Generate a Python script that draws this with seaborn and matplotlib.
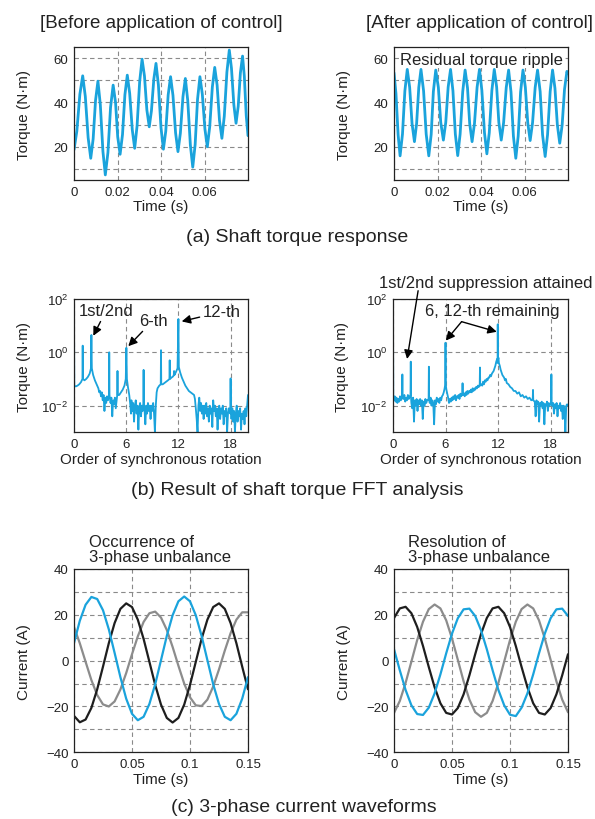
import matplotlib
matplotlib.use("Agg")
import numpy as np
import matplotlib.pyplot as plt
from matplotlib.ticker import FixedLocator, NullLocator
import seaborn as sns

sns.set_theme(style="white")
plt.rcParams["font.family"] = ["Liberation Sans", "DejaVu Sans"]
plt.rcParams["mathtext.fontset"] = "custom"
plt.rcParams["mathtext.rm"] = "Liberation Sans"
plt.rcParams["mathtext.it"] = "Liberation Sans:italic"
plt.rcParams["mathtext.bf"] = "Liberation Sans:bold"

BLUE = "#1aa3dc"
BLACK = "#1e1e1e"
GRAY = "#8c8c8c"

# ---------------- (a) shaft torque response ----------------
before_t = [0, 0.0013, 0.0027, 0.004, 0.0052, 0.0065, 0.0077, 0.0088, 0.0099, 0.011, 0.0121,
            0.0133, 0.0144, 0.0156, 0.0168, 0.018, 0.0191, 0.0201, 0.0212, 0.0223, 0.0234,
            0.0245, 0.0256, 0.0268, 0.0279, 0.029, 0.0302, 0.0313, 0.0324, 0.0335, 0.0346,
            0.0356, 0.0367, 0.0377, 0.0388, 0.04, 0.0411, 0.0422, 0.0433, 0.0444, 0.0455,
            0.0467, 0.0478, 0.0489, 0.0501, 0.0512, 0.0523, 0.0535, 0.0546, 0.0557, 0.0568,
            0.0579, 0.059, 0.0602, 0.0613, 0.0624, 0.0636, 0.0647, 0.0658, 0.0669, 0.068,
            0.0691, 0.0703, 0.0714, 0.0724, 0.0735, 0.0745, 0.0755, 0.0765, 0.0775, 0.0783,
            0.0792, 0.08]
before_v = [18.6, 27.0, 43.7, 52.0, 42.7, 24.1, 14.8, 23.5, 40.9, 49.6, 39.0,
            17.9, 7.3, 17.4, 37.7, 47.8, 40.0, 24.4, 16.6, 25.5, 43.4,
            52.3, 44.1, 27.6, 19.3, 29.4, 49.5, 59.5, 51.9, 36.6, 29.0,
            36.2, 50.5, 57.6, 47.9, 28.6, 18.9, 27.1, 43.4, 51.6, 43.2,
            26.3, 17.8, 26.1, 42.6, 50.8, 40.8, 20.8, 10.8, 21.0, 41.4,
            51.6, 43.7, 27.9, 20.0, 29.0, 46.9, 55.8, 47.8, 31.8, 23.8,
            33.8, 53.7, 63.6, 55.4, 38.9, 30.6, 38.2, 53.3, 60.9, 51.9,
            34.0, 25.0]
after_t = [0, 0.0009, 0.0019, 0.0028, 0.0039, 0.005, 0.0061, 0.0072, 0.0083, 0.0094, 0.0104,
           0.0114, 0.0124, 0.0136, 0.0148, 0.016, 0.0171, 0.0181, 0.0192, 0.0204, 0.0215,
           0.0227, 0.0238, 0.0249, 0.026, 0.0271, 0.0282, 0.0293, 0.0304, 0.0316, 0.0327,
           0.0338, 0.0348, 0.0359, 0.037, 0.0382, 0.0393, 0.0404, 0.0416, 0.0427, 0.0438,
           0.045, 0.0461, 0.0472, 0.0482, 0.0493, 0.0504, 0.0516, 0.0527, 0.0538, 0.0549,
           0.056, 0.0571, 0.0582, 0.0593, 0.0604, 0.0615, 0.0626, 0.0637, 0.0649, 0.066,
           0.0672, 0.0683, 0.0695, 0.0706, 0.0718, 0.0729, 0.074, 0.0751, 0.0762, 0.0773,
           0.0784, 0.0795, 0.08]
after_v = [53.4, 44.0, 25.3, 15.9, 25.7, 45.2, 54.9, 46.8, 30.4, 22.3, 30.5,
           46.8, 54.9, 45.2, 25.7, 15.9, 25.6, 44.9, 54.6, 46.7, 30.9,
           23.0, 31.0, 46.9, 54.9, 45.2, 25.7, 16.0, 25.7, 44.9, 54.6,
           46.5, 30.4, 22.3, 30.5, 46.8, 54.9, 45.4, 26.3, 16.8, 26.3,
           45.4, 54.9, 46.9, 31.0, 23.0, 30.9, 46.7, 54.6, 44.7, 24.8,
           14.8, 24.8, 44.7, 54.6, 46.7, 30.8, 22.8, 30.8, 46.7, 54.6,
           44.9, 25.4, 15.6, 25.4, 44.9, 54.6, 46.4, 29.9, 21.6, 29.7,
           45.9, 54.0, 53.0]

# ---------------- (b) FFT spectra: order and log10(torque) ----------------
fft_before = [
    (0.00, 1.60), (0.03, -1.25), (0.2, -1.28), (0.4, -1.25), (0.6, -1.2), (0.8, -1.12), (0.97, -1.0),
    (1.00, 0.25), (1.03, -1.0), (1.2, -1.05), (1.4, -1.0), (1.6, -0.92), (1.8, -0.8), (1.95, -0.6),
    (2.00, 0.65), (2.05, -0.6), (2.2, -0.85), (2.4, -1.05), (2.6, -1.2), (2.8, -1.35), (2.9, -1.5),
    (3.0, -1.45), (3.1, -1.65), (3.2, -1.5), (3.3, -1.8), (3.4, -1.6), (3.5, -2.2), (3.6, -1.7),
    (3.7, -1.9), (3.8, -1.65), (3.9, -1.8), (4.03, -1.6), (4.05, 0.0), (4.08, -1.6), (4.2, -1.9),
    (4.3, -1.7), (4.4, -2.4), (4.5, -1.8), (4.6, -1.95), (4.7, -1.7), (4.8, -2.1), (4.97, -1.6),
    (5.00, -0.7), (5.03, -1.6), (5.2, -1.6), (5.4, -1.5), (5.6, -1.4), (5.8, -1.25), (5.95, -1.0),
    (6.02, 0.17), (6.08, -1.0), (6.2, -1.3), (6.35, -1.6), (6.45, -1.9), (6.55, -2.3), (6.6, -1.8),
    (6.7, -2.2), (6.8, -1.9), (6.9, -2.6), (7.0, -2.0), (7.1, -1.8), (7.2, -2.3), (7.3, -2.0),
    (7.4, -2.9), (7.5, -2.1), (7.6, -1.9), (7.7, -2.4), (7.8, -2.0), (7.9, -2.2), (7.97, -1.9),
    (8.0, -0.66), (8.03, -1.9), (8.1, -2.1), (8.2, -2.7), (8.3, -2.0), (8.4, -2.3), (8.5, -1.9),
    (8.6, -2.2), (8.7, -2.0), (8.8, -2.5), (8.9, -2.0), (9.0, -2.2), (9.1, -1.9), (9.2, -2.3),
    (9.3, -3.0), (9.4, -2.0), (9.5, -1.5), (9.6, -1.35), (9.7, -1.3), (9.8, -1.25), (9.97, -1.2),
    (10.0, 0.08), (10.03, -1.2), (10.2, -1.2), (10.4, -1.15), (10.6, -1.1), (10.8, -1.05),
    (10.97, -1.0), (11.0, -0.3), (11.03, -1.0), (11.2, -0.95), (11.4, -0.9), (11.47, -0.85),
    (11.5, -0.7), (11.55, -0.85), (11.7, -0.75), (11.9, -0.6), (12.0, 1.25), (12.05, -0.55),
    (12.2, -0.75), (12.4, -0.95), (12.6, -1.1), (12.8, -1.25), (13.0, -1.35), (13.2, -1.45),
    (13.4, -1.5), (13.6, -1.55), (13.8, -1.6), (13.9, -1.75), (14.0, -2.1), (14.1, -2.5),
    (14.2, -3.0), (14.3, -2.0), (14.4, -1.7), (14.5, -2.2), (14.6, -1.9), (14.7, -2.3),
    (14.8, -2.0), (14.9, -2.5), (15.0, -2.0), (15.1, -2.3), (15.2, -1.9), (15.3, -2.4),
    (15.4, -2.1), (15.5, -2.6), (15.6, -2.0), (15.7, -2.3), (15.8, -2.1), (15.9, -2.8),
    (16.0, -1.8), (16.1, -2.2), (16.2, -2.0), (16.3, -2.4), (16.4, -2.1), (16.5, -2.9),
    (16.6, -2.2), (16.7, -2.0), (16.8, -2.5), (16.9, -2.1), (17.0, -2.3), (17.1, -2.0),
    (17.2, -2.7), (17.3, -2.2), (17.4, -2.4), (17.5, -2.1), (17.6, -3.0), (17.7, -2.3),
    (17.8, -2.1), (17.97, -2.3), (18.0, -0.98), (18.03, -2.2), (18.1, -2.5), (18.2, -2.1),
    (18.3, -2.6), (18.4, -2.2), (18.5, -3.0), (18.6, -2.3), (18.7, -2.0), (18.8, -2.6),
    (18.9, -2.2), (19.0, -2.4), (19.1, -2.1), (19.2, -2.9), (19.3, -2.3), (19.4, -2.5),
    (19.5, -2.2), (19.6, -2.7), (19.7, -2.1), (19.8, -2.4), (19.9, -2.0), (20.0, -1.6)]
fft_after = [
    (0.0, 1.6), (0.03, -1.7), (0.1, -1.8), (0.2, -1.65), (0.3, -1.85), (0.4, -1.7), (0.5, -1.9),
    (0.6, -1.75), (0.7, -1.85), (0.8, -1.65), (0.9, -1.8), (1.04, -1.7), (1.07, -0.83), (1.1, -1.7),
    (1.2, -1.75), (1.3, -1.6), (1.4, -1.85), (1.5, -1.7), (1.6, -1.8), (1.7, -1.6), (1.8, -1.75),
    (1.9, -1.65), (2.0, -1.6), (2.03, -0.35), (2.06, -1.7), (2.1, -1.9), (2.2, -2.1), (2.3, -1.7),
    (2.4, -2.6), (2.5, -1.8), (2.6, -2.0), (2.7, -1.75), (2.8, -2.2), (2.9, -1.8), (3.0, -1.95),
    (3.1, -1.75), (3.2, -2.0), (3.3, -1.8), (3.4, -2.5), (3.5, -1.85), (3.6, -2.0), (3.7, -1.75),
    (3.8, -1.9), (3.9, -1.8), (4.07, -1.75), (4.1, -0.54), (4.13, -1.8), (4.2, -1.9), (4.3, -1.7),
    (4.4, -2.0), (4.5, -1.8), (4.6, -1.9), (4.7, -2.7), (4.8, -1.8), (4.9, -1.95), (5.0, -1.7),
    (5.1, -1.85), (5.2, -1.75), (5.3, -1.9), (5.4, -1.7), (5.5, -1.8), (5.6, -1.65), (5.7, -1.6),
    (5.8, -1.5), (5.9, -1.35), (5.97, -1.2), (6.0, 0.36), (6.03, -1.2), (6.1, -1.4), (6.2, -1.55),
    (6.3, -1.7), (6.4, -1.9), (6.5, -1.75), (6.6, -1.85), (6.7, -1.7), (6.8, -1.8), (6.9, -1.65),
    (7.0, -1.75), (7.1, -1.6), (7.2, -1.8), (7.3, -1.65), (7.4, -1.7), (7.5, -1.6), (7.6, -1.75),
    (7.7, -1.55), (7.8, -1.65), (7.92, -1.55), (7.95, -1.16), (7.98, -1.6), (8.1, -1.55),
    (8.2, -1.65), (8.3, -1.5), (8.4, -1.6), (8.5, -1.45), (8.6, -1.55), (8.7, -1.45), (8.8, -1.5),
    (8.9, -1.4), (9.0, -1.5), (9.1, -1.35), (9.2, -1.45), (9.3, -1.35), (9.4, -1.4), (9.5, -1.3),
    (9.6, -1.35), (9.7, -1.25), (9.8, -1.3), (9.91, -1.2), (9.94, -0.57), (9.97, -1.25),
    (10.1, -1.2), (10.2, -1.25), (10.3, -1.1), (10.4, -1.2), (10.5, -1.05), (10.6, -1.1),
    (10.7, -1.0), (10.8, -1.05), (10.9, -0.95), (11.0, -0.95), (11.1, -0.85), (11.2, -0.9),
    (11.3, -0.8), (11.4, -0.75), (11.5, -0.7), (11.6, -0.6), (11.7, -0.5), (11.8, -0.35),
    (11.9, -0.25), (11.95, -0.4), (11.97, 1.05), (12.0, -0.3), (12.05, -0.2), (12.1, -0.4),
    (12.2, -0.5), (12.3, -0.65), (12.4, -0.75), (12.5, -0.85), (12.6, -0.9), (12.7, -0.95),
    (12.8, -1.05), (12.9, -1.0), (13.0, -1.15), (13.2, -1.2), (13.4, -1.3), (13.6, -1.35),
    (13.8, -1.45), (14.0, -1.45), (14.2, -1.55), (14.4, -1.5), (14.6, -1.65), (14.8, -1.6),
    (15.0, -1.7), (15.2, -1.65), (15.4, -1.75), (15.6, -1.7), (15.8, -1.8), (15.97, -1.75),
    (16.0, -1.41), (16.03, -1.8), (16.2, -1.85), (16.3, -2.4), (16.4, -1.8), (16.5, -1.95),
    (16.6, -1.85), (16.7, -2.6), (16.8, -1.9), (16.9, -2.0), (17.0, -1.85), (17.1, -2.1),
    (17.2, -1.9), (17.3, -2.7), (17.4, -1.95), (17.5, -2.0), (17.6, -1.85), (17.7, -2.2),
    (17.8, -1.9), (17.9, -2.0), (18.07, -1.9), (18.1, -0.83), (18.13, -1.95), (18.2, -2.0),
    (18.3, -1.9), (18.4, -2.3), (18.5, -1.95), (18.6, -2.1), (18.7, -1.9), (18.8, -2.4),
    (18.9, -2.0), (19.0, -2.1), (19.1, -1.9), (19.2, -2.2), (19.3, -2.0), (19.4, -2.5),
    (19.5, -2.0), (19.6, -2.1), (19.7, -3.0), (19.8, -2.0), (19.9, -1.95), (20.0, -2.0)]

# ---------------- (c) 3-phase currents, sampled every 5 ms ----------------
cur_t = [0.0, 0.005, 0.01, 0.015, 0.02, 0.025, 0.03, 0.035, 0.04, 0.045, 0.05, 0.055, 0.06,
         0.065, 0.07, 0.075, 0.08, 0.085, 0.09, 0.095, 0.1, 0.105, 0.11, 0.115, 0.12, 0.125,
         0.13, 0.135, 0.14, 0.145, 0.15]
left_blue = [7.7, 17.4, 24.4, 27.8, 26.9, 22.0, 13.7, 3.4, -7.2, -16.6, -23.2, -26.0, -24.5,
             -18.9, -10.3, 0.2, 10.8, 19.8, 25.9, 28.0, 25.9, 19.8, 10.8, 0.2, -10.3, -18.9,
             -24.5, -26.0, -23.2, -16.6, -7.2]
left_black = [-24.1, -26.9, -25.7, -20.6, -12.5, -2.6, 7.6, 16.4, 22.6, 25.0, 23.4, 17.9, 9.5,
              -0.5, -10.6, -19.2, -25.0, -27.0, -25.0, -19.2, -10.6, -0.5, 9.5, 17.9, 23.4,
              25.0, 22.6, 16.4, 7.6, -2.6, -12.5]
left_gray = [14.7, 7.6, -0.5, -8.5, -15.0, -19.1, -20.0, -17.8, -12.6, -5.4, 2.8, 10.6, 16.9,
             20.7, 21.4, 18.8, 13.4, 6.0, -2.2, -10.0, -16.0, -19.5, -19.8, -17.0, -11.3, -3.8,
             4.4, 12.0, 17.9, 21.1, 21.1]
right_black = [18.6, 22.8, 23.5, 20.7, 14.7, 6.4, -2.8, -11.6, -18.6, -22.8, -23.5, -20.7,
               -14.7, -6.4, 2.8, 11.6, 18.6, 22.8, 23.5, 20.7, 14.7, 6.4, -2.8, -11.6, -18.6,
               -22.8, -23.5, -20.7, -14.7, -6.4, 2.8]
right_gray = [-22.8, -17.6, -9.7, -0.4, 9.0, 17.0, 22.5, 24.5, 22.8, 17.6, 9.7, 0.4, -9.0,
              -17.0, -22.5, -24.5, -22.8, -17.6, -9.7, -0.4, 9.0, 17.0, 22.5, 24.5, 22.8,
              17.6, 9.7, 0.4, -9.0, -17.0, -22.5]
right_blue = [5.0, -4.2, -12.8, -19.5, -23.3, -23.7, -20.5, -14.3, -6.0, 3.2, 11.8, 18.5, 22.4,
              22.7, 19.5, 13.3, 5.0, -4.2, -12.8, -19.5, -23.6, -24.2, -20.5, -14.3, -6.0, 3.2,
              11.8, 18.5, 22.4, 22.7, 19.5]

# ---------------- figure ----------------
W, H = 595, 820
fig = plt.figure(figsize=(W / 100, H / 100), dpi=100)


def add_ax(x0, y0, x1, y1):
    return fig.add_axes([x0 / W, 1 - y1 / H, (x1 - x0) / W, (y1 - y0) / H])


def style(ax, ylab, xlab, xlab_y):
    for s in ax.spines.values():
        s.set_visible(True)
        s.set_color("#222222")
        s.set_linewidth(0.9)
    ax.tick_params(which="both", length=0, labelsize=9.5, colors="#222222", pad=4)
    ax.grid(True, which="both", linestyle=(0, (4, 3)), color="#8a8a8a", linewidth=0.8)
    ax.set_axisbelow(True)
    ax.set_ylabel(ylab, fontsize=11, color="#222222")
    ax.set_xlabel(xlab, fontsize=11, color="#222222")
    ax.yaxis.set_label_coords(-0.29, 0.5)
    ax.yaxis.label.set_va("center")
    ax.xaxis.set_label_coords(0.5, xlab_y)
    ax.xaxis.label.set_va("center")


def line(ax, x, y, color, lw):
    sns.lineplot(x=x, y=y, ax=ax, color=color, linewidth=lw, estimator=None, sort=False,
                 legend=False, solid_joinstyle="round", solid_capstyle="round")


# (a)
for (x0, x1, tt, vv) in [(74, 248, before_t, before_v), (394, 568, after_t, after_v)]:
    ax = add_ax(x0, 48, x1, 181)
    line(ax, tt, vv, BLUE, 2.0)
    ax.set_xlim(0, 0.08)
    ax.set_ylim(5, 65)
    ax.xaxis.set_major_locator(FixedLocator([0, 0.02, 0.04, 0.06]))
    ax.set_xticklabels(["0", "0.02", "0.04", "0.06"])
    ax.yaxis.set_major_locator(FixedLocator([20, 40, 60]))
    ax.set_yticklabels(["20", "40", "60"])
    ax.yaxis.set_minor_locator(FixedLocator([10, 30, 50]))
    style(ax, "Torque (N·m)", "Time (s)", -0.193)
    if x0 > 300:
        ax.text(0.505, 0.905, "Residual torque ripple", transform=ax.transAxes, ha="center",
                va="center", fontsize=12, color="#222222",
                bbox=dict(facecolor="white", edgecolor="none", pad=0.5))

fig.text(161 / W, 1 - 24 / H, "[Before application of control]", ha="center", va="center",
         fontsize=13.5, color="#222222")
fig.text(480 / W, 1 - 24 / H, "[After application of control]", ha="center", va="center",
         fontsize=13.5, color="#222222")
fig.text(297 / W, 1 - 238 / H, "(a) Shaft torque response", ha="center", va="center",
         fontsize=14, color="#222222")

# (b)
axes_b = []
for (x0, x1, spec) in [(74, 248, fft_before), (393, 568, fft_after)]:
    ax = add_ax(x0, 300, x1, 433.3)
    order = [p[0] for p in spec]
    torque = [10 ** p[1] for p in spec]
    line(ax, order, torque, BLUE, 1.3)
    ax.set_yscale("log")
    ax.set_xlim(0, 20)
    ax.set_ylim(1e-3, 1e2)
    ax.xaxis.set_major_locator(FixedLocator([0, 6, 12, 18]))
    ax.set_xticklabels(["0", "6", "12", "18"])
    ax.yaxis.set_major_locator(FixedLocator([1e-2, 1e0, 1e2]))
    ax.set_yticklabels([r"$10^{-2}$", r"$10^{0}$", r"$10^{2}$"])
    ax.yaxis.set_minor_locator(NullLocator())
    style(ax, "Torque (N·m)", "Order of synchronous rotation", -0.20)
    axes_b.append(ax)

arrow = dict(arrowstyle="-|>", color="black", lw=1.0, mutation_scale=13, shrinkA=0, shrinkB=0)
axl, axr = axes_b
axl.annotate("1st/2nd", xy=(2.22, 10 ** 0.62), xytext=(3.68, 10 ** 1.56), fontsize=12,
             ha="center", va="center", color="#222222", arrowprops=arrow, annotation_clip=False)
axl.annotate("6-th", xy=(6.24, 10 ** 0.23), xytext=(9.08, 10 ** 1.19), fontsize=12,
             ha="center", va="center", color="#222222", arrowprops=arrow, annotation_clip=False)
axl.annotate("12-th", xy=(12.38, 10 ** 1.16), xytext=(17.0, 10 ** 1.52), fontsize=12,
             ha="center", va="center", color="#222222", arrowprops=arrow, annotation_clip=False)

axr.text(10.63, 10 ** 2.63, "1st/2nd suppression attained", fontsize=12, ha="center",
         va="center", color="#222222", clip_on=False)
axr.annotate("", xy=(1.61, 10 ** -0.25), xytext=(2.87, 10 ** 2.31), arrowprops=arrow,
             annotation_clip=False)
axr.text(11.32, 10 ** 1.56, "6, 12-th remaining", fontsize=12, ha="center", va="center",
         color="#222222", clip_on=False)
axr.annotate("", xy=(6.04, 10 ** 0.44), xytext=(7.84, 10 ** 1.15), arrowprops=arrow,
             annotation_clip=False)
axr.annotate("", xy=(11.86, 10 ** 0.77), xytext=(7.84, 10 ** 1.15), arrowprops=arrow,
             annotation_clip=False)

fig.text(297 / W, 1 - 491 / H, "(b) Result of shaft torque FFT analysis", ha="center",
         va="center", fontsize=14, color="#222222")

# (c)
for (x0, x1, bl, bk, gr, title, tx) in [
        (74, 248, left_blue, left_black, left_gray, "Occurrence of\n3-phase unbalance", 89),
        (394, 568, right_blue, right_black, right_gray, "Resolution of\n3-phase unbalance", 408)]:
    ax = add_ax(x0, 570, x1, 753.3)
    line(ax, cur_t, gr, GRAY, 1.6)
    line(ax, cur_t, bk, BLACK, 1.6)
    line(ax, cur_t, bl, BLUE, 1.6)
    ax.set_xlim(0, 0.15)
    ax.set_ylim(-40, 40)
    ax.xaxis.set_major_locator(FixedLocator([0, 0.05, 0.1, 0.15]))
    ax.set_xticklabels(["0", "0.05", "0.1", "0.15"])
    ax.yaxis.set_major_locator(FixedLocator([-40, -20, 0, 20, 40]))
    ax.set_yticklabels(["\u221240", "\u221220", "0", "20", "40"])
    ax.yaxis.set_minor_locator(FixedLocator([-30, -10, 10, 30]))
    style(ax, "Current (A)", "Time (s)", -0.146)
    fig.text(tx / W, 1 - 550 / H, title, ha="left", va="center", fontsize=12,
             linespacing=1.0, color="#222222")

fig.text(304 / W, 1 - 808 / H, "(c) 3-phase current waveforms", ha="center", va="center",
         fontsize=14, color="#222222")

fig.savefig("out.png", dpi=100)
